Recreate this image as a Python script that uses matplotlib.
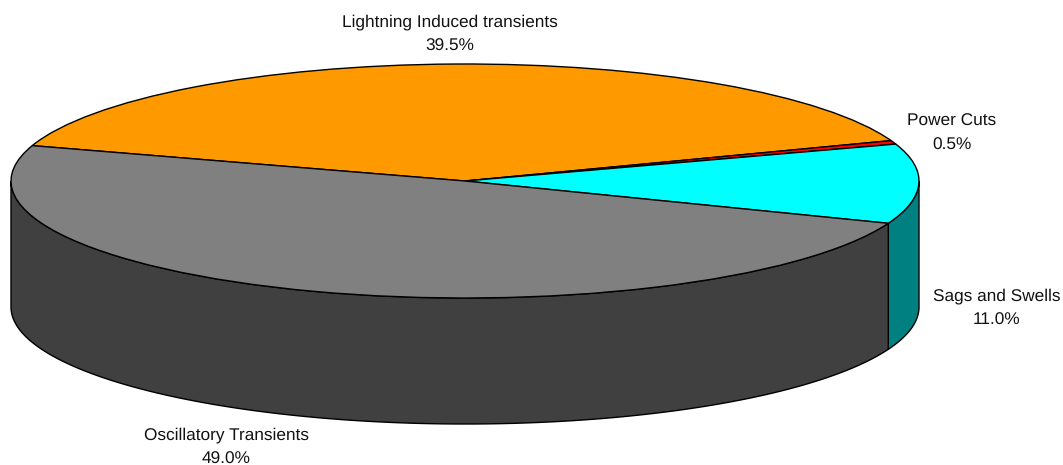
import numpy as np
import matplotlib
matplotlib.use('Agg')
import matplotlib.pyplot as plt

labels = ['Lightning Induced transients', 'Power Cuts', 'Sags and Swells', 'Oscillatory Transients']
values = [39.5, 0.5, 11.0, 49.0]
colors = ['#FF9900', '#FF0000', '#00FFFF', '#808080']
side_colors = ['#804C00', '#800000', '#008080', '#404040']

W, H = 1063, 465
cx, cy = 465, 181
rx, ry = 454, 117
depth = 126 / ry

plt.rcParams['font.family'] = ['Liberation Sans', 'DejaVu Sans']
plt.rcParams['text.hinting'] = 'no_hinting'

fig = plt.figure(figsize=(W / 100, H / 100), dpi=100)
ax = fig.add_axes([0, 0, 1, 1])

start = 162.4
ax.pie(values, colors=colors, startangle=start, counterclock=False, radius=1,
       wedgeprops={'edgecolor': 'black', 'linewidth': 1.0, 'zorder': 3})

# side wall, only the part of each slice that faces the viewer
angle = start
for v, c in zip(values, side_colors):
    a1 = angle
    a2 = angle - v * 3.6
    angle = a2
    for shift in (0, -360):
        hi = min(a1 + shift, 0)
        lo = max(a2 + shift, -180)
        if hi <= lo:
            continue
        t = np.radians(np.linspace(hi, lo, 200))
        x = np.cos(t)
        y = np.sin(t)
        ax.fill(np.r_[x, x[::-1]], np.r_[y, y[::-1] - depth], facecolor=c,
                edgecolor='black', linewidth=1.0, zorder=2)

ax.set_aspect('auto')
ax.set_xlim(-cx / rx, (W - cx) / rx)
ax.set_ylim((cy - H) / ry, cy / ry)
ax.axis('off')

label_pos = [(450, 34.5), (952, 133.5), (997, 308.5), (226, 447)]
for name, v, (px, py) in zip(labels, values, label_pos):
    ax.text((px - cx) / rx, (cy - py) / ry, f'{name}\n{v:.1f}%', ha='center', va='center',
            fontsize=12.45, color='#111111', linespacing=1.66)

fig.savefig('out.png', dpi=100)
